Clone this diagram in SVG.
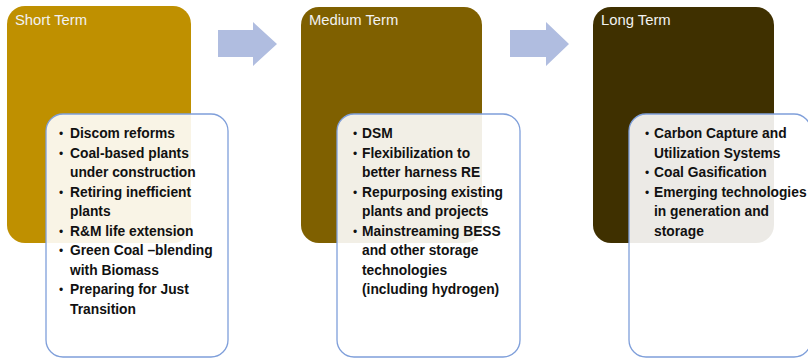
<svg xmlns="http://www.w3.org/2000/svg" width="808" height="358" viewBox="0 0 808 358">
<style>
.bg{stroke:none}
.card{fill:#ffffff;fill-opacity:0.9;stroke:#7F9FDA;stroke-width:1.3}
.hd{font-family:"Liberation Sans",Arial,sans-serif;font-size:14.8px;fill:#F2F2F2}
.it{font-family:"Liberation Sans",Arial,sans-serif;font-size:13.8px;font-weight:bold;fill:#111111}
.bu{font-family:"Liberation Sans",Arial,sans-serif;font-size:12px;fill:#111111}
.arrow{fill:#B0BDE0}
</style>
<rect width="808" height="358" fill="#ffffff"/>
<g id="connectors">
<polygon class="arrow" points="218,30 253,30 253,22 277,44 253,66 253,57 218,57"/>
<polygon class="arrow" points="510,30 546,30 546,22 569,44 546,66 546,57 510,57"/>
</g>
<g id="short-term">
<rect class="bg" x="7" y="6" width="184" height="237" rx="18" fill="#BF9000"/>
<text class="hd" x="15" y="25">Short Term</text>
<rect class="card" x="46" y="114" width="182" height="243" rx="17"/>
<text class="bu" x="59" y="138">•</text><text class="it" x="70" y="138">Discom reforms</text>
<text class="bu" x="59" y="157.5">•</text><text class="it" x="70" y="157.5">Coal-based plants</text>
<text class="it" x="70" y="177">under construction</text>
<text class="bu" x="59" y="196.5">•</text><text class="it" x="70" y="196.5">Retiring inefficient</text>
<text class="it" x="70" y="216">plants</text>
<text class="bu" x="59" y="235.5">•</text><text class="it" x="70" y="235.5">R&amp;M life extension</text>
<text class="bu" x="59" y="255">•</text><text class="it" x="70" y="255">Green Coal –blending</text>
<text class="it" x="70" y="274.5">with Biomass</text>
<text class="bu" x="59" y="294">•</text><text class="it" x="70" y="294">Preparing for Just</text>
<text class="it" x="70" y="313.5">Transition</text>
</g>
<g id="medium-term">
<rect class="bg" x="301" y="7" width="181" height="236" rx="18" fill="#7F6000"/>
<text class="hd" x="309" y="25">Medium Term</text>
<rect class="card" x="337" y="114" width="183" height="243" rx="17"/>
<text class="bu" x="353" y="138">•</text><text class="it" x="362" y="138">DSM</text>
<text class="bu" x="353" y="157.5">•</text><text class="it" x="362" y="157.5">Flexibilization to</text>
<text class="it" x="362" y="177">better harness RE</text>
<text class="bu" x="353" y="196.5">•</text><text class="it" x="362" y="196.5">Repurposing existing</text>
<text class="it" x="362" y="216">plants and projects</text>
<text class="bu" x="353" y="235.5">•</text><text class="it" x="362" y="235.5">Mainstreaming BESS</text>
<text class="it" x="362" y="255">and other storage</text>
<text class="it" x="362" y="274.5">technologies</text>
<text class="it" x="362" y="294">(including hydrogen)</text>
</g>
<g id="long-term">
<rect class="bg" x="593" y="7" width="181" height="236" rx="18" fill="#3F3000"/>
<text class="hd" x="601" y="25">Long Term</text>
<rect class="card" x="629" y="114" width="182" height="243" rx="17"/>
<text class="bu" x="645" y="138">•</text><text class="it" x="654" y="138">Carbon Capture and</text>
<text class="it" x="654" y="157.5">Utilization Systems</text>
<text class="bu" x="645" y="177">•</text><text class="it" x="654" y="177">Coal Gasification</text>
<text class="bu" x="645" y="196.5">•</text><text class="it" x="654" y="196.5">Emerging technologies</text>
<text class="it" x="654" y="216">in generation and</text>
<text class="it" x="654" y="235.5">storage</text>
</g>
</svg>
